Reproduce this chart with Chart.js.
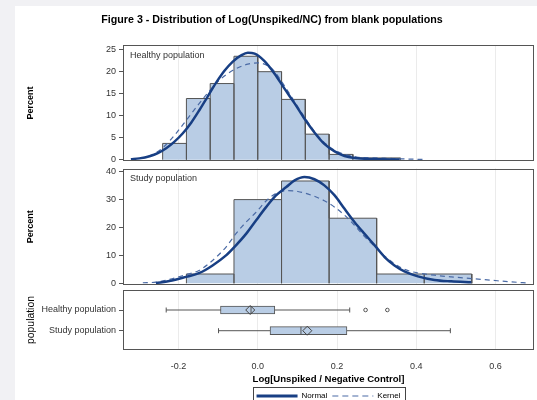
<!DOCTYPE html>
<html lang="en">
<head>
    <meta charset="UTF-8">
    <title>Figure 3 - Distribution of Log(Unspiked/NC) from blank populations</title>
    <script src="https://cdn.jsdelivr.net/npm/chart.js@4.4.1/dist/chart.umd.min.js"></script>
    <style>
        html, body {
            margin: 0;
            padding: 0;
            overflow: hidden;
            background-color: #f1f1f4;
        }

        .sheet {
            position: absolute;
            left: 15px;
            top: 6px;
            width: 540px;
            height: 420px;
            background-color: #ffffff; /* white page behind the three panels */
        }

        canvas {
            position: absolute;
            left: 0;
            top: 0;
        }
    </style>
</head>
<body>

    <div class="sheet"></div>
    <canvas id="topChart" width="537" height="400"></canvas>
    <canvas id="midChart" width="537" height="400"></canvas>
    <canvas id="boxChart" width="537" height="413"></canvas>

    <script>
        // Shared x axis: Log[Unspiked / Negative Control]
        var xMin = -0.34, xMax = 0.697;
        var xTicks = [-0.2, 0, 0.2, 0.4, 0.6];

        // Healthy population - histogram (percent per bin)
        var healthyEdges = [-0.24, -0.18, -0.12, -0.06, 0, 0.06, 0.12, 0.18, 0.24, 0.30, 0.36];
        var healthyPct = [3.7, 13.9, 17.3, 23.5, 20.0, 13.7, 5.8, 1.2, 0.4, 0.4];
        var healthyNormalX = [-0.320, -0.299, -0.273, -0.252, -0.231, -0.210, -0.189, -0.168, -0.147, -0.126, -0.105, -0.084, -0.063, -0.042, -0.025, -0.008, 0.017, 0.042, 0.067, 0.093, 0.118, 0.143, 0.168, 0.194, 0.219, 0.244, 0.286, 0.358];
        var healthyNormalY = [0.1, 0.3, 0.8, 1.5, 2.6, 4.1, 6.0, 8.4, 11.3, 14.4, 17.5, 20.2, 22.3, 23.7, 24.3, 24.1, 22.4, 19.6, 16.2, 12.8, 9.3, 6.2, 3.6, 1.9, 0.85, 0.4, 0.15, 0.05];
        var healthyKernelX = [-0.32, -0.29, -0.26, -0.236, -0.206, -0.18, -0.15, -0.122, -0.1, -0.075, -0.05, -0.025, 0.0, 0.02, 0.04, 0.06, 0.08, 0.1, 0.12, 0.14, 0.16, 0.18, 0.2, 0.22, 0.25, 0.28, 0.32, 0.36, 0.417];
        var healthyKernelY = [0.1, 0.4, 1.4, 3.0, 6.0, 9.0, 12.5, 15.6, 17.8, 19.6, 20.9, 21.7, 22.0, 21.6, 20.3, 17.8, 15.0, 12.2, 9.4, 6.8, 4.6, 3.0, 1.9, 1.2, 0.6, 0.45, 0.35, 0.2, 0.05];
        var yTicksTop = [0, 5, 10, 15, 20, 25];

        // Study population - histogram (percent per bin)
        var studyEdges = [-0.18, -0.06, 0.06, 0.18, 0.30, 0.42, 0.54];
        var studyPct = [3.33, 30.0, 36.67, 23.33, 3.33, 3.33];
        var studyNormalX = [-0.257, -0.223, -0.181, -0.147, -0.114, -0.080, -0.055, -0.029, -0.004, 0.021, 0.046, 0.072, 0.093, 0.118, 0.143, 0.168, 0.194, 0.219, 0.244, 0.269, 0.295, 0.320, 0.345, 0.370, 0.404, 0.446, 0.488, 0.539];
        var studyNormalY = [0.1, 0.8, 2.3, 3.7, 6.4, 10.0, 13.6, 17.8, 22.6, 27.3, 31.5, 34.5, 36.9, 38.1, 37.3, 35.1, 31.5, 26.7, 22.0, 17.8, 13.6, 9.4, 6.4, 4.3, 2.5, 1.2, 0.7, 0.35];
        var studyKernelX = [-0.290, -0.257, -0.223, -0.181, -0.147, -0.114, -0.080, -0.055, -0.029, -0.004, 0.021, 0.046, 0.072, 0.101, 0.135, 0.168, 0.194, 0.219, 0.244, 0.269, 0.295, 0.320, 0.345, 0.370, 0.404, 0.446, 0.488, 0.539, 0.589, 0.640, 0.682];
        var studyKernelY = [0.2, 0.4, 1.4, 3.1, 4.7, 8.2, 13.0, 17.8, 22.0, 25.5, 29.5, 32.2, 33.2, 32.9, 31.6, 29.6, 27.3, 24.4, 20.8, 16.8, 13.2, 9.8, 7.0, 5.0, 3.7, 2.9, 2.3, 1.7, 1.1, 0.5, 0.1];
        var yTicksMid = [0, 10, 20, 30, 40];

        // Box plots
        var boxLabels = ['Healthy population', 'Study population'];
        var boxMin = [-0.231, -0.099];
        var boxQ1 = [-0.094, 0.031];
        var boxMedian = [-0.017, 0.109];
        var boxMean = [-0.019, 0.125];
        var boxQ3 = [0.043, 0.225];
        var boxMax = [0.232, 0.486];
        var healthyOutliers = [0.272, 0.327];

        // colours
        var navy = '#183f84';
        var kernelBlue = '#4a6aa5';
        var barFill = '#b9cde5';
        var edgeGray = '#555555';
        var gridColor = '#ebebeb';

        Chart.defaults.font.family = '"Liberation Sans", Arial, sans-serif';
        Chart.defaults.color = '#333';

        function xy(xs, ys) {
            return xs.map(function (x, i) { return { x: x, y: ys[i] }; });
        }

        // outline of each histogram bar, built from the bin edges
        function histPoints(edges, pct) {
            var pts = [];
            for (var i = 0; i < pct.length; i++) {
                pts.push({ x: edges[i], y: 0 }, { x: edges[i], y: pct[i] },
                         { x: edges[i + 1], y: pct[i] }, { x: edges[i + 1], y: 0 });
            }
            return pts;
        }

        function setTicks(values) {
            return function (scale) {
                scale.ticks = values.map(function (v) { return { value: v }; });
            };
        }

        // frame round the plot area + inset panel label
        var framePlugin = {
            id: 'frame',
            afterDraw: function (chart, args, opts) {
                var a = chart.chartArea, ctx = chart.ctx;
                var l = Math.round(a.left) + 0.5, t = Math.round(a.top) + 0.5;
                var r = Math.round(a.right) - 0.5, b = Math.round(a.bottom) - 0.5;
                ctx.save();
                ctx.strokeStyle = edgeGray;
                ctx.lineWidth = 1;
                ctx.setLineDash([]);
                ctx.strokeRect(l, t, r - l, b - t);
                if (opts.label) {
                    ctx.fillStyle = '#333';
                    ctx.font = '9px "Liberation Sans", Arial, sans-serif';
                    ctx.textBaseline = 'middle';
                    ctx.fillText(opts.label, a.left + 7, a.top + 10);
                }
                if (opts.legendBox && chart.legend && chart.legend.legendHitBoxes.length) {
                    var hb = chart.legend.legendHitBoxes;
                    var last = hb[hb.length - 1];
                    var bl = Math.round(hb[0].left - 4) + 0.5;
                    var br = Math.round(last.left + last.width + 5) + 0.5;
                    var bt = Math.round(chart.legend.top) + 0.5;
                    ctx.strokeStyle = '#444';
                    ctx.strokeRect(bl, bt, br - bl, 20);
                }
                ctx.restore();
            }
        };

        function histDatasets(edges, pct, nx, ny, kx, ky) {
            return [
                {
                    label: 'Normal', data: xy(nx, ny), showLine: true,
                    borderColor: navy, borderWidth: 2.5, pointRadius: 0,
                    cubicInterpolationMode: 'monotone', order: 1
                },
                {
                    label: 'Kernel', data: xy(kx, ky), showLine: true,
                    borderColor: kernelBlue, borderWidth: 1.2, borderDash: [5, 4], pointRadius: 0,
                    cubicInterpolationMode: 'monotone', order: 2
                },
                {
                    label: 'Percent', data: histPoints(edges, pct), showLine: true,
                    fill: 'origin', backgroundColor: barFill, borderColor: edgeGray,
                    borderWidth: 1, pointRadius: 0, order: 3
                }
            ];
        }

        function histOptions(padTop, padBottom, yMin, yMax, yTicks, label, showTitle) {
            return {
                responsive: false,
                animation: false,
                events: [],
                layout: { autoPadding: false, padding: { top: padTop, left: 10, right: 3, bottom: padBottom } },
                plugins: {
                    legend: { display: false },
                    tooltip: { enabled: false },
                    frame: { label: label },
                    title: {
                        display: showTitle,
                        text: 'Figure 3 - Distribution of Log(Unspiked/NC) from blank populations',
                        color: '#000',
                        font: { size: 10.7, weight: 'bold', lineHeight: 1.2 },
                        padding: { top: 14, bottom: 18.3 }
                    }
                },
                scales: {
                    x: {
                        type: 'linear', min: xMin, max: xMax,
                        afterBuildTicks: setTicks(xTicks),
                        afterFit: function (s) { s.height = 0; },
                        ticks: { display: false },
                        grid: { color: gridColor, drawTicks: false },
                        border: { display: false }
                    },
                    y: {
                        type: 'linear', min: yMin, max: yMax,
                        afterBuildTicks: setTicks(yTicks),
                        afterFit: function (s) { s.width = 113; },
                        ticks: { font: { size: 9 }, color: '#333', padding: 3 },
                        grid: { drawOnChartArea: false, tickLength: 4, color: edgeGray },
                        border: { display: false },
                        title: {
                            display: true, text: 'Percent', color: '#000',
                            font: { size: 9, weight: 'bold' }, padding: { top: 15.6, bottom: 0 }
                        }
                    }
                }
            };
        }

        // Healthy population panel
        new Chart(document.getElementById('topChart'), {
            type: 'scatter',
            data: { datasets: histDatasets(healthyEdges, healthyPct, healthyNormalX, healthyNormalY, healthyKernelX, healthyKernelY) },
            options: histOptions(0, 239, -0.296, 26.03, yTicksTop, 'Healthy population', true),
            plugins: [framePlugin]
        });

        // Study population panel
        new Chart(document.getElementById('midChart'), {
            type: 'scatter',
            data: { datasets: histDatasets(studyEdges, studyPct, studyNormalX, studyNormalY, studyKernelX, studyKernelY) },
            options: histOptions(168.5, 115, -0.61, 41.15, yTicksMid, 'Study population', false),
            plugins: [framePlugin]
        });

        // Box plot panel
        var boxDatasets = [
            {
                type: 'bar', label: 'IQR', indexAxis: 'y',
                data: boxLabels.map(function (c, i) { return { x: [boxQ1[i], boxQ3[i]], y: i }; }),
                backgroundColor: barFill, borderColor: edgeGray, borderWidth: 1,
                borderSkipped: false, barThickness: 8, order: 3
            },
            {
                label: 'Median', data: boxMedian.map(function (v, i) { return { x: v, y: i }; }),
                pointStyle: 'line', pointRotation: 90, pointRadius: 4,
                pointBorderColor: edgeGray, pointBorderWidth: 1, order: 2
            },
            {
                label: 'Mean', data: boxMean.map(function (v, i) { return { x: v, y: i }; }),
                pointStyle: 'rectRot', pointRadius: 4.5, pointBackgroundColor: 'rgba(0,0,0,0)',
                pointBorderColor: '#444', pointBorderWidth: 1, order: 1
            },
            {
                label: 'Outliers', data: healthyOutliers.map(function (v) { return { x: v, y: 0 }; }),
                pointStyle: 'circle', pointRadius: 1.8, pointBackgroundColor: '#fff',
                pointBorderColor: edgeGray, pointBorderWidth: 1, order: 1
            }
        ];
        boxLabels.forEach(function (c, i) {
            boxDatasets.push({
                label: 'Whisker ' + c, showLine: true,
                data: [{ x: boxMin[i], y: i }, { x: boxMax[i], y: i }],
                borderColor: edgeGray, borderWidth: 1,
                pointStyle: 'line', pointRotation: 90, pointRadius: 2.5,
                pointBorderColor: edgeGray, pointBorderWidth: 1, order: 4
            });
        });

        new Chart(document.getElementById('boxChart'), {
            type: 'scatter',
            data: { datasets: boxDatasets },
            options: {
                responsive: false,
                animation: false,
                events: [],
                layout: { autoPadding: false, padding: { top: 290, left: 10, right: 3, bottom: 3 } },
                plugins: {
                    tooltip: { enabled: false },
                    frame: { legendBox: true },
                    legend: {
                        display: true,
                        position: 'bottom',
                        fullSize: false,
                        labels: {
                            usePointStyle: true,
                            pointStyleWidth: 41,
                            boxHeight: 8,
                            padding: 5,
                            color: '#333',
                            font: { size: 8 },
                            generateLabels: function () {
                                return [
                                    { text: 'Normal', strokeStyle: navy, fillStyle: navy, lineWidth: 3, pointStyle: 'line', lineDash: [], hidden: false },
                                    { text: 'Kernel', strokeStyle: kernelBlue, fillStyle: kernelBlue, lineWidth: 1.2, pointStyle: 'line', lineDash: [6, 4], hidden: false }
                                ];
                            }
                        }
                    }
                },
                scales: {
                    x: {
                        type: 'linear', min: xMin, max: xMax, offset: false,
                        afterBuildTicks: setTicks(xTicks),
                        afterFit: function (s) {
                            s.height = 37;
                            s.paddingLeft = 0;
                            s.paddingRight = 0;
                        },
                        ticks: {
                            font: { size: 9 }, color: '#333', padding: 11,
                            callback: function (v) { return v.toFixed(1); }
                        },
                        grid: { color: gridColor, drawTicks: false, offset: false },
                        border: { display: false },
                        title: {
                            display: true, text: 'Log[Unspiked / Negative Control]', color: '#000',
                            font: { size: 9.6, weight: 'bold' }, padding: { top: 0, bottom: 1.6 }
                        }
                    },
                    y: {
                        type: 'linear', reverse: true, min: -0.966, max: 1.932, offset: false,
                        afterBuildTicks: setTicks([0, 1]),
                        afterFit: function (s) { s.width = 113; },
                        ticks: {
                            font: { size: 9 }, color: '#333', padding: 3,
                            callback: function (v) { return boxLabels[v]; }
                        },
                        grid: { drawOnChartArea: false, tickLength: 4, color: edgeGray, offset: false },
                        border: { display: false },
                        title: {
                            display: true, text: 'population', color: '#000',
                            font: { size: 10.4 }, padding: { top: 14.8, bottom: 0 }
                        }
                    }
                }
            },
            plugins: [framePlugin]
        });
    </script>
</body>
</html>
